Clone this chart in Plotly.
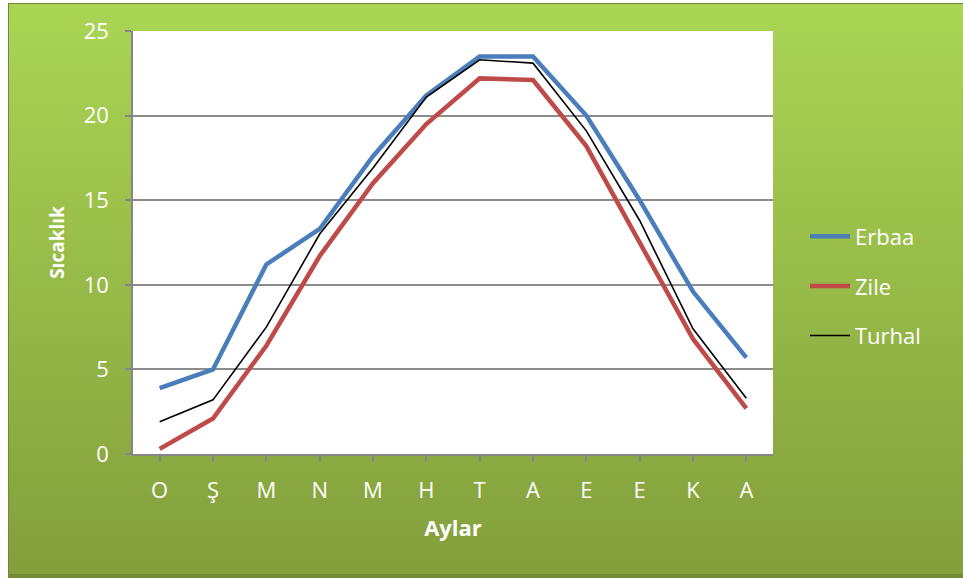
import plotly.graph_objects as go

months = ["O", "Ş", "M", "N", "M", "H", "T", "A", "E", "E", "K", "A"]
erbaa = [3.9, 5.0, 11.2, 13.3, 17.6, 21.2, 23.5, 23.5, 20.0, 15.0, 9.6, 5.7]
zile = [0.3, 2.1, 6.4, 11.7, 16.0, 19.5, 22.2, 22.1, 18.2, 12.5, 6.8, 2.7]
turhal = [1.9, 3.2, 7.5, 13.0, 16.9, 21.1, 23.3, 23.1, 19.1, 13.8, 7.4, 3.3]

x = list(range(len(months)))

FONT = "Open Sans"

fig = go.Figure()
fig.add_trace(go.Scatter(x=x, y=erbaa, name="Erbaa", mode="lines",
                         line=dict(color="#4a7ebb", width=4.5), legendgroup="a"))
fig.add_trace(go.Scatter(x=x, y=zile, name="Zile", mode="lines",
                         line=dict(color="#be4b48", width=4.5), legendgroup="b"))
fig.add_trace(go.Scatter(x=x, y=turhal, name="Turhal", mode="lines",
                         line=dict(color="#000000", width=1.6), legendgroup="c"))

svg = ("data:image/svg+xml;utf8,<svg xmlns='http://www.w3.org/2000/svg' width='963' height='581' "
       "viewBox='0 0 963 581' preserveAspectRatio='none'>"
       "<defs><linearGradient id='g' x1='0' y1='0' x2='0' y2='1'>"
       "<stop offset='0' stop-color='%23aad554'/><stop offset='1' stop-color='%23839f3c'/>"
       "</linearGradient></defs>"
       "<rect x='0' y='0' width='963' height='581' fill='white'/>"
       "<rect x='8' y='3' width='955' height='575' fill='%236f8b33'/>"
       "<rect x='9' y='4' width='954' height='570' fill='url(%23g)'/>"
       "</svg>")

fig.add_layout_image(dict(source=svg, xref="paper", yref="paper",
                          x=-133/640, y=1 + 31/423, sizex=963/640, sizey=581/423,
                          xanchor="left", yanchor="top", sizing="stretch", layer="below"))

fig.add_shape(type="rect", xref="paper", yref="paper", x0=0, x1=1, y0=0, y1=1,
              fillcolor="white", line=dict(width=0), layer="below")

fig.update_layout(
    width=963, height=581,
    margin=dict(l=133, r=190, t=31, b=127),
    paper_bgcolor="white",
    plot_bgcolor="white",
    font=dict(family=FONT, color="white", size=22),
    showlegend=True,
    legend=dict(x=1.05, y=0.397, xanchor="left", yanchor="middle",
                bgcolor="rgba(0,0,0,0)", font=dict(size=22, color="white"),
                tracegroupgap=18, itemwidth=40),
    xaxis=dict(
        tickmode="array", tickvals=x, ticktext=months,
        range=[-0.5, len(months) - 0.5],
        showgrid=False, showline=True, linecolor="#868686", linewidth=1.5,
        ticks="outside", tickson="boundaries", ticklen=6, tickcolor="#868686", tickwidth=1.5,
        tickfont=dict(size=22, color="white"), ticklabelstandoff=10,
        title=dict(text="<b>Aylar</b>", font=dict(size=22, color="white"), standoff=17),
        zeroline=False,
    ),
    yaxis=dict(
        range=[0, 25], tickvals=[0, 5, 10, 15, 20, 25],
        showgrid=True, gridcolor="#8c8c8c", gridwidth=1.5,
        showline=True, linecolor="#868686", linewidth=1.5,
        ticks="outside", ticklen=6, tickcolor="#868686", tickwidth=1.5,
        tickfont=dict(size=22, color="white"), ticklabelstandoff=12,
        title=dict(text="<b>Sıcaklık</b>", font=dict(size=19, color="white"), standoff=14),
        zeroline=False,
    ),
)

fig.write_html("out.html", config={"displayModeBar": False},
               post_script="document.body.style.margin='0';document.body.style.overflow='hidden';")
